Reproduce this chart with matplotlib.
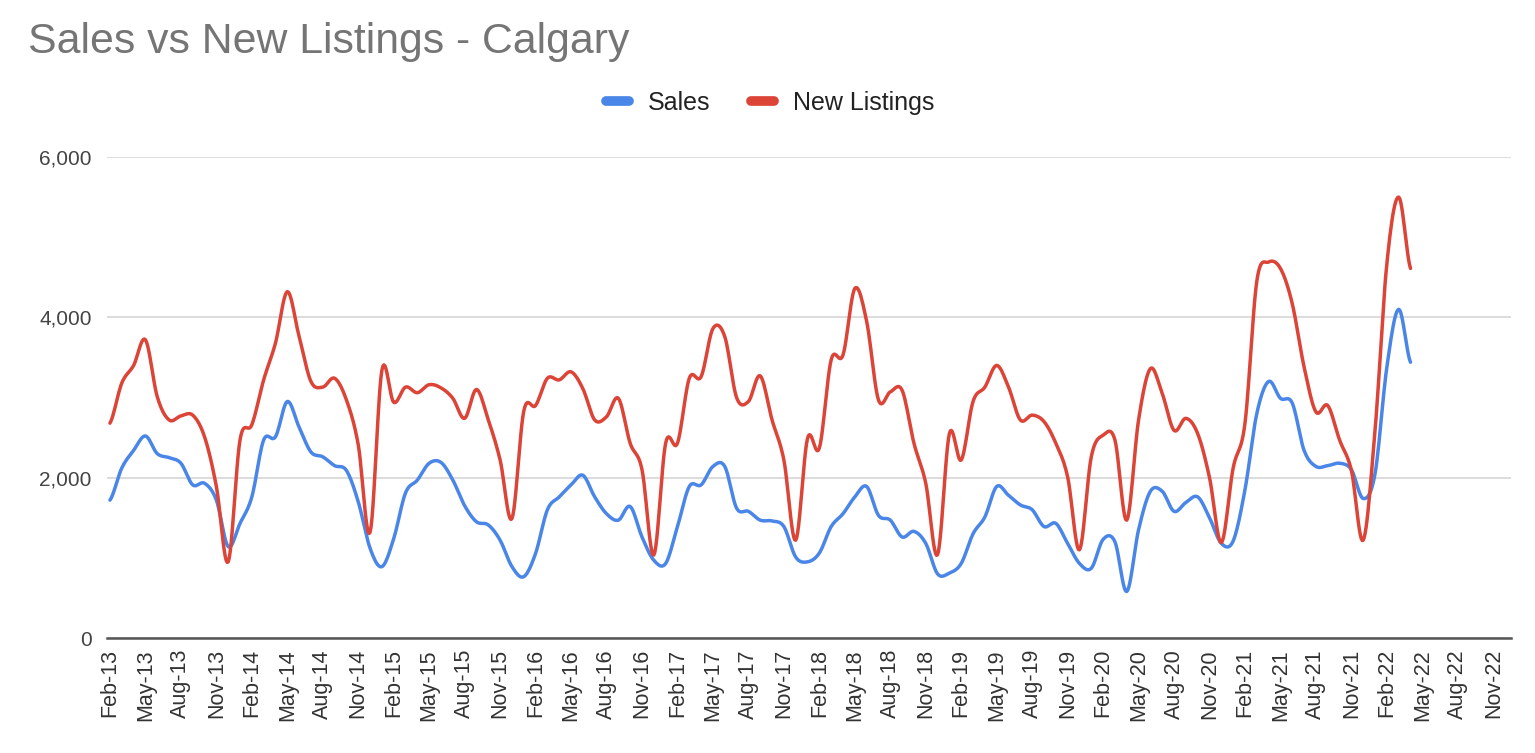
import numpy as np
import matplotlib
matplotlib.use("Agg")
import matplotlib.pyplot as plt
from matplotlib.lines import Line2D

# ---------------- data (monthly, Feb-13 .. Apr-22) ----------------
sales = [1720, 2120, 2340, 2520, 2300, 2250, 2180, 1910, 1930, 1720,
         1140, 1430, 1760, 2470, 2510, 2950, 2630, 2320, 2260, 2150,
         2090, 1700, 1120, 890, 1240, 1810, 1970, 2180, 2190, 1970,
         1650, 1450, 1410, 1220, 890, 765, 1056, 1600, 1760, 1910,
         2030, 1760, 1550, 1470, 1640, 1260, 970, 930, 1390, 1890,
         1910, 2140, 2140, 1620, 1580, 1470, 1460, 1390, 1010, 950,
         1060, 1390, 1550, 1760, 1890, 1530, 1470, 1260, 1330, 1180,
         800, 810, 930, 1300, 1510, 1890, 1780, 1660, 1600, 1390,
         1430, 1180, 930, 870, 1230, 1200, 580, 1350, 1830, 1830,
         1580, 1690, 1760, 1500, 1180, 1210, 1850, 2800, 3200, 2990,
         2930, 2340, 2140, 2150, 2180, 2100, 1740, 2050, 3380, 4100,
         3440]

new_listings = [2680, 3180, 3400, 3720, 3010, 2720, 2770, 2780, 2510, 1890,
                950, 2470, 2660, 3220, 3680, 4320, 3760, 3200, 3130, 3240,
                2970, 2410, 1320, 3340, 2940, 3130, 3060, 3160, 3120, 2990,
                2740, 3100, 2720, 2220, 1490, 2830, 2900, 3240, 3220, 3320,
                3110, 2720, 2760, 2990, 2430, 2100, 1035, 2430, 2430, 3240,
                3260, 3860, 3760, 3000, 2950, 3270, 2720, 2220, 1220, 2490,
                2370, 3470, 3530, 4360, 3950, 2970, 3070, 3090, 2430, 1930,
                1040, 2550, 2220, 2950, 3130, 3400, 3130, 2720, 2780, 2700,
                2430, 2010, 1100, 2260, 2530, 2470, 1470, 2720, 3360, 3050,
                2590, 2740, 2550, 2000, 1190, 2120, 2680, 4450, 4690, 4610,
                4170, 3380, 2820, 2900, 2470, 2090, 1220, 2590, 4670, 5500,
                4610]

tick_labels = ["Feb-13", "May-13", "Aug-13", "Nov-13",
               "Feb-14", "May-14", "Aug-14", "Nov-14",
               "Feb-15", "May-15", "Aug-15", "Nov-15",
               "Feb-16", "May-16", "Aug-16", "Nov-16",
               "Feb-17", "May-17", "Aug-17", "Nov-17",
               "Feb-18", "May-18", "Aug-18", "Nov-18",
               "Feb-19", "May-19", "Aug-19", "Nov-19",
               "Feb-20", "May-20", "Aug-20", "Nov-20",
               "Feb-21", "May-21", "Aug-21", "Nov-21",
               "Feb-22", "May-22", "Aug-22", "Nov-22"]

y_ticks = [0, 2000, 4000, 6000]

series_names = ["Sales", "New Listings"]
colors = ["#4a86e8", "#db4437"]


def smooth(y, n=12):
    """Catmull-Rom curve through the given points (for drawing only)."""
    y = np.asarray(y, dtype=float)
    x = np.arange(len(y), dtype=float)
    yp = np.concatenate([[y[0]], y, [y[-1]]])
    xs, ys = [], []
    t = np.linspace(0, 1, n, endpoint=False)
    for i in range(len(y) - 1):
        p0, p1, p2, p3 = yp[i], yp[i + 1], yp[i + 2], yp[i + 3]
        m1 = (p2 - p0) / 2.0
        m2 = (p3 - p1) / 2.0
        h00 = 2 * t**3 - 3 * t**2 + 1
        h10 = t**3 - 2 * t**2 + t
        h01 = -2 * t**3 + 3 * t**2
        h11 = t**3 - t**2
        ys.append(h00 * p1 + h10 * m1 + h01 * p2 + h11 * m2)
        xs.append(x[i] + t)
    xs.append([x[-1]])
    ys.append([y[-1]])
    return np.concatenate(xs), np.concatenate(ys)


plt.rcParams["font.family"] = ["Liberation Sans", "DejaVu Sans"]

W, H = 1535, 753
fig = plt.figure(figsize=(W / 100, H / 100), dpi=100)
fig.patch.set_facecolor("white")

ax = fig.add_axes([107 / W, 1 - 638 / H, (1511 - 107) / W, (638 - 157) / H])

for vals, col in zip([sales, new_listings], colors):
    xs, ys = smooth(vals)
    ax.plot(xs, ys, color=col, lw=2.5, solid_capstyle="round", solid_joinstyle="round", zorder=3)

ax.set_xlim(-0.25, 118.5)
ax.set_ylim(0, 6000)

ax.set_yticks(y_ticks)
ax.set_yticklabels([f"{v:,}" for v in y_ticks], fontsize=15, color="#444444")
ax.set_xticks(np.arange(0, 3 * len(tick_labels), 3))
ax.set_xticklabels(tick_labels, rotation=90, fontsize=15.5, color="#333333", va="top", ha="center")
ax.tick_params(axis="both", length=0)
ax.tick_params(axis="y", pad=11)
ax.tick_params(axis="x", pad=8)

ax.grid(axis="y", color="#d9d9d9", lw=1.3, zorder=0)
ax.set_axisbelow(True)
for s in ["top", "right", "left"]:
    ax.spines[s].set_visible(False)
ax.spines["bottom"].set_color("#555555")
ax.spines["bottom"].set_linewidth(1.8)
ax.spines["bottom"].set_zorder(4)

fig.text(28 / W, 1 - 42 / H, "Sales vs New Listings - Calgary", fontsize=30.8,
         color="#757575", ha="left", va="center")

handles = [Line2D([0], [0], color=c, lw=7, solid_capstyle="round") for c in colors]
fig.legend(handles, series_names, loc="center", bbox_to_anchor=(770 / W, 1 - 103 / H),
           ncol=2, frameon=False, fontsize=18, handlelength=0.95, handletextpad=0.75,
           columnspacing=1.6, labelcolor="#222222")

fig.savefig("out.png", dpi=100, facecolor="white")
